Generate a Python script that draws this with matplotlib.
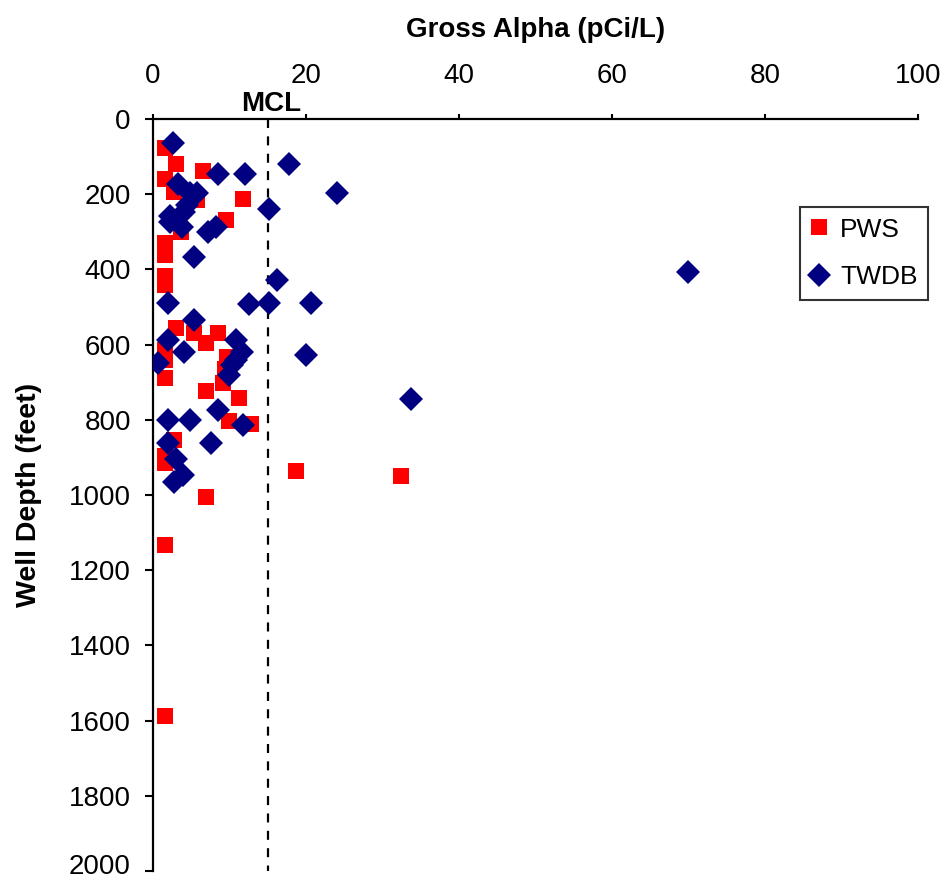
import matplotlib
matplotlib.use("Agg")
import matplotlib.pyplot as plt
import matplotlib.transforms as mtransforms

plt.rcParams['font.family'] = ['Liberation Sans', 'DejaVu Sans']
plt.rcParams['lines.scale_dashes'] = False

# ---- data ----
pws_alpha = [1.6, 3.0, 6.6, 1.6, 2.7, 5.8, 11.8, 9.5, 3.6, 1.6, 1.6, 1.6, 1.6,
             3.0, 5.3, 8.5, 6.9, 1.6, 1.6, 9.7, 9.4, 9.2, 1.6, 6.9, 11.2, 9.9,
             12.8, 2.7, 1.6, 1.6, 18.7, 32.4, 6.9, 1.6, 1.6]
pws_depth = [78, 119, 139, 159, 194, 216, 212, 268, 300, 329, 361, 418, 441,
             555, 568, 568, 596, 615, 642, 633, 664, 702, 689, 723, 742, 803,
             810, 854, 896, 916, 937, 950, 1005, 1132, 1589]

twdb_alpha = [2.6, 17.8, 8.5, 12.0, 3.3, 4.8, 5.7, 24.0, 4.4, 15.1, 4.0, 2.2,
              2.2, 3.8, 7.2, 8.3, 5.3, 16.2, 69.9, 2.0, 12.5, 15.1, 20.6, 5.3,
              2.0, 4.0, 0.7, 10.8, 11.6, 10.9, 10.3, 9.9, 20.0, 33.7, 2.0, 4.9,
              8.5, 11.8, 2.0, 7.6, 3.0, 3.9, 2.7]
twdb_depth = [65, 120, 145, 145, 172, 198, 198, 198, 230, 240, 247, 259,
              274, 287, 300, 287, 367, 429, 408, 489, 493, 489, 489, 535,
              589, 621, 648, 587, 620, 642, 655, 682, 628, 744, 801, 801,
              775, 815, 863, 863, 903, 948, 965]

mcl_value = 15
x_ticks = [0, 20, 40, 60, 80, 100]
y_ticks = [0, 200, 400, 600, 800, 1000, 1200, 1400, 1600, 1800, 2000]

# ---- figure ----
fig = plt.figure(figsize=(9.4, 8.84), dpi=100)
ax = fig.add_axes([153/940, 1 - 871/884, (918-153)/940, (871-119)/884])

ax.plot(pws_alpha, pws_depth, linestyle='none', marker='s', markersize=11,
        color='#FF0000', markeredgewidth=0, label='PWS', zorder=3)
ax.plot(twdb_alpha, twdb_depth, linestyle='none', marker='D', markersize=12,
        color='#000080', markeredgewidth=0, label='TWDB', zorder=4)

ax.plot([mcl_value, mcl_value], [0, 2000], color='black', linewidth=1.6,
        dashes=(6.5, 6.0), zorder=2)

ax.set_xlim(0, 100)
ax.set_ylim(2000, 0)
ax.set_xticks(x_ticks)
ax.set_yticks(y_ticks)
# last y label drawn separately (nudged up slightly so it stays inside the canvas)
ax.set_yticklabels([str(v) for v in y_ticks[:-1]] + [''])

ax.xaxis.set_ticks_position('top')
ax.xaxis.set_label_position('top')
for s in ['bottom', 'right']:
    ax.spines[s].set_visible(False)
for s in ['top', 'left']:
    ax.spines[s].set_linewidth(1.6)

ax.tick_params(axis='x', direction='out', length=3.5, width=1.5, pad=18,
               labelsize=20)
ax.tick_params(axis='y', direction='out', length=6, width=1.5, pad=10,
               labelsize=20)

ytrans = mtransforms.blended_transform_factory(ax.transAxes, ax.transData)
ax.text(0, y_ticks[-1], str(y_ticks[-1]), ha='right', va='center', fontsize=20,
        transform=ytrans + mtransforms.ScaledTranslation(-16/72, 3.5/100,
                                                         fig.dpi_scale_trans))

ax.set_xlabel('Gross Alpha (pCi/L)', fontsize=20, fontweight='bold', labelpad=19)
ax.set_ylabel('Well Depth (feet)', fontsize=20.5, fontweight='bold', labelpad=19)

trans = mtransforms.blended_transform_factory(ax.transData, ax.transAxes)
ax.text(15.4, 1.0, 'MCL', ha='center', va='baseline',
        fontsize=20, fontweight='bold',
        transform=trans + mtransforms.ScaledTranslation(0, 8/100, fig.dpi_scale_trans))

leg = ax.legend(loc='upper right', bbox_to_anchor=(928/940, 1 - 207/884),
                bbox_transform=fig.transFigure, borderaxespad=0,
                fontsize=19, frameon=True, fancybox=False, shadow=False,
                handlelength=0.6, handletextpad=0.5, labelspacing=0.9,
                borderpad=0.4)
leg.get_frame().set_edgecolor('black')
leg.get_frame().set_linewidth(1.5)

fig.savefig('out.png', dpi=100, facecolor='white')
